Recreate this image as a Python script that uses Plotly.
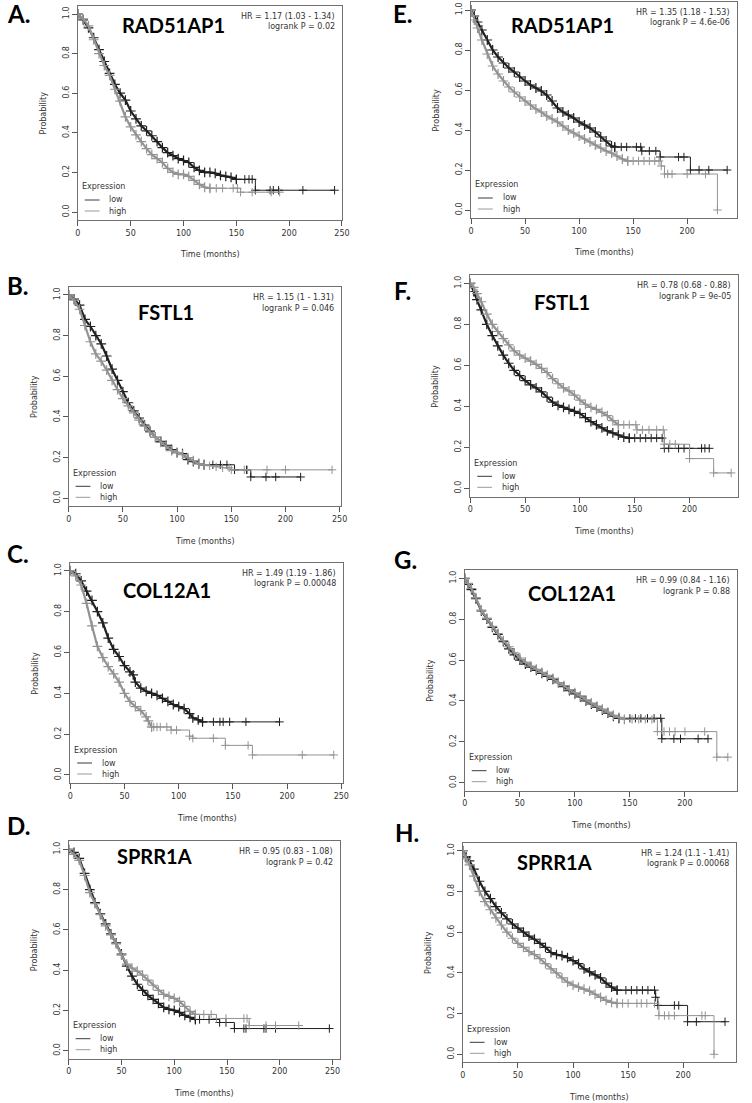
import plotly.graph_objects as go

# ---------------- data ----------------
LETTERS = ["A.", "B.", "C.", "D.", "E.", "F.", "G.", "H."]
GENES = ["RAD51AP1", "FSTL1", "COL12A1", "SPRR1A", "RAD51AP1", "FSTL1", "COL12A1", "SPRR1A"]
HR_TEXT = ["HR = 1.17 (1.03 - 1.34)", "HR = 1.15 (1 - 1.31)", "HR = 1.49 (1.19 - 1.86)",
           "HR = 0.95 (0.83 - 1.08)", "HR = 1.35 (1.18 - 1.53)", "HR = 0.78 (0.68 - 0.88)",
           "HR = 0.99 (0.84 - 1.16)", "HR = 1.24 (1.1 - 1.41)"]
P_TEXT = ["logrank P = 0.02", "logrank P = 0.046", "logrank P = 0.00048", "logrank P = 0.42",
          "logrank P = 4.6e-06", "logrank P = 9e-05", "logrank P = 0.88", "logrank P = 0.00068"]
X_TICKS_LEFT = [0, 50, 100, 150, 200, 250]
X_TICKS_RIGHT = [0, 50, 100, 150, 200]
Y_TICKS = [0.0, 0.2, 0.4, 0.6, 0.8, 1.0]
Y_TICK_TEXT = ["0.0", "0.2", "0.4", "0.6", "0.8", "1.0"]

A_low_t = [0,5,10,15,20,25,30,35,40,45,50,55,60,65,70,75,80,85,90,95,100,105,110,115,120,125,130,135,140,145,150,158,162,165,168,182,185,190,213,243]
A_low_s = [1.0,0.97,0.93,0.88,0.82,0.76,0.70,0.645,0.60,0.565,0.51,0.47,0.435,0.41,0.385,0.355,0.325,0.30,0.285,0.27,0.26,0.25,0.225,0.21,0.20,0.20,0.195,0.185,0.18,0.175,0.165,0.165,0.165,0.165,0.11,0.11,0.11,0.11,0.11,0.11]
A_high_t = [0,5,10,15,20,25,30,35,40,45,50,55,60,65,70,75,80,85,90,95,100,105,110,115,120,125,131,137,147,151,154,165,183,191]
A_high_s = [1.0,0.975,0.94,0.87,0.80,0.74,0.69,0.62,0.56,0.48,0.43,0.39,0.355,0.32,0.29,0.27,0.25,0.22,0.20,0.19,0.19,0.18,0.16,0.14,0.125,0.12,0.12,0.12,0.12,0.12,0.10,0.10,0.10,0.10]

B_low_t = [0,5,10,15,20,25,30,35,40,45,50,55,60,65,70,75,80,85,90,95,100,105,110,115,120,125,133,140,146,153,164,168,182,191,214]
B_low_s = [1.0,0.98,0.95,0.88,0.845,0.80,0.76,0.70,0.635,0.58,0.525,0.47,0.43,0.395,0.36,0.33,0.30,0.28,0.26,0.24,0.225,0.22,0.19,0.18,0.17,0.165,0.165,0.165,0.165,0.14,0.14,0.105,0.105,0.105,0.105]
B_high_t = [0,5,10,15,20,25,30,35,40,45,50,55,60,65,70,75,80,85,90,95,100,105,110,115,120,125,130,136,142,148,150,162,165,183,200,243]
B_high_s = [1.0,0.975,0.93,0.85,0.77,0.71,0.675,0.63,0.58,0.535,0.49,0.455,0.42,0.385,0.355,0.325,0.30,0.275,0.255,0.235,0.225,0.215,0.20,0.185,0.17,0.165,0.16,0.155,0.15,0.15,0.14,0.14,0.14,0.14,0.14,0.14]

C_low_t = [0,5,10,15,20,25,30,35,40,45,50,55,58,60,65,70,75,80,85,90,95,100,105,110,113,118,122,132,138,141,147,162,193]
C_low_s = [1.0,0.985,0.95,0.90,0.855,0.80,0.745,0.67,0.615,0.58,0.535,0.505,0.49,0.455,0.425,0.41,0.40,0.39,0.375,0.36,0.345,0.335,0.325,0.30,0.28,0.27,0.26,0.26,0.26,0.26,0.26,0.26,0.26]
C_high_t = [0,5,10,15,20,25,30,35,40,45,50,55,60,65,70,72,75,77,80,83,89,93,98,110,113,132,143,164,168,214,243]
C_high_s = [1.0,0.975,0.93,0.84,0.73,0.63,0.575,0.53,0.495,0.455,0.40,0.36,0.335,0.315,0.285,0.265,0.235,0.235,0.235,0.235,0.235,0.22,0.22,0.19,0.18,0.18,0.145,0.145,0.098,0.098,0.098]

D_low_t = [0,5,10,15,20,25,30,35,40,45,50,55,60,65,70,75,80,85,90,95,100,105,110,115,120,124,133,143,149,157,166,168,185,187,196,247]
D_low_s = [1.0,0.985,0.955,0.88,0.80,0.735,0.68,0.63,0.58,0.535,0.48,0.42,0.37,0.33,0.30,0.275,0.255,0.235,0.215,0.205,0.20,0.19,0.175,0.165,0.155,0.155,0.155,0.14,0.14,0.11,0.11,0.11,0.11,0.11,0.11,0.11]
D_high_t = [0,5,10,15,20,25,30,35,40,45,50,55,60,65,70,75,80,85,90,95,100,105,110,115,120,128,135,140,149,166,169,171,187,196,218]
D_high_s = [1.0,0.975,0.945,0.87,0.785,0.73,0.675,0.62,0.575,0.53,0.475,0.43,0.41,0.395,0.375,0.35,0.325,0.30,0.28,0.27,0.26,0.245,0.22,0.195,0.18,0.18,0.18,0.16,0.16,0.16,0.16,0.125,0.125,0.125,0.125]

E_low_t = [0,3,6,10,15,20,25,30,35,40,45,50,55,60,65,70,75,80,85,90,95,100,105,110,115,120,125,130,133,139,144,153,157,158,165,171,175,192,197,203,211,220,237]
E_low_s = [1.0,0.97,0.94,0.90,0.85,0.80,0.765,0.735,0.71,0.69,0.665,0.645,0.625,0.61,0.595,0.575,0.545,0.51,0.49,0.475,0.46,0.44,0.425,0.41,0.39,0.365,0.345,0.32,0.315,0.315,0.315,0.315,0.315,0.295,0.295,0.295,0.265,0.265,0.265,0.20,0.20,0.20,0.20]
E_high_t = [0,3,6,10,15,20,25,30,35,40,45,50,55,60,65,70,75,80,85,90,95,100,105,110,115,120,125,130,135,140,145,150,155,160,165,170,174,176,179,182,186,200,217,228]
E_high_s = [1.0,0.95,0.91,0.85,0.78,0.72,0.68,0.645,0.615,0.59,0.565,0.545,0.525,0.505,0.49,0.47,0.455,0.44,0.42,0.40,0.385,0.37,0.355,0.34,0.325,0.31,0.295,0.285,0.27,0.255,0.245,0.245,0.245,0.245,0.245,0.245,0.245,0.22,0.18,0.18,0.18,0.18,0.18,0.0]

F_low_t = [0,3,6,10,15,20,25,30,35,40,45,50,55,60,65,70,75,80,85,90,95,100,105,110,115,120,125,130,135,140,145,150,155,160,165,170,175,177,181,190,195,200,211,214,218]
F_low_s = [1.0,0.96,0.92,0.87,0.80,0.745,0.695,0.65,0.61,0.575,0.55,0.525,0.505,0.49,0.47,0.445,0.42,0.405,0.395,0.385,0.375,0.365,0.345,0.325,0.31,0.295,0.28,0.27,0.26,0.25,0.245,0.245,0.245,0.245,0.245,0.245,0.245,0.195,0.195,0.195,0.195,0.195,0.195,0.195,0.195]
F_high_t = [0,3,6,10,15,20,25,30,35,40,45,50,55,60,65,70,75,80,85,90,95,100,105,110,115,120,125,130,135,140,145,151,152,157,163,170,176,177,182,187,200,222,238]
F_high_s = [1.0,0.98,0.95,0.91,0.85,0.80,0.765,0.73,0.70,0.67,0.65,0.635,0.62,0.605,0.585,0.565,0.535,0.51,0.49,0.475,0.455,0.43,0.41,0.395,0.385,0.37,0.355,0.33,0.31,0.31,0.31,0.31,0.285,0.285,0.285,0.285,0.285,0.215,0.215,0.215,0.145,0.075,0.075]

G_low_t = [0,3,6,10,15,20,25,30,35,40,45,50,55,60,65,70,75,80,85,90,95,100,105,110,115,120,125,130,135,140,150,155,160,166,172,178,179,190,196,212,221]
G_low_s = [1.0,0.97,0.945,0.90,0.84,0.80,0.76,0.725,0.69,0.655,0.625,0.60,0.58,0.565,0.55,0.535,0.52,0.505,0.49,0.47,0.45,0.435,0.42,0.40,0.385,0.37,0.355,0.34,0.325,0.315,0.315,0.315,0.315,0.315,0.315,0.315,0.215,0.215,0.215,0.215,0.215]
G_high_t = [0,3,6,10,15,20,25,30,35,40,45,50,55,60,65,70,75,80,85,90,95,100,105,110,115,120,125,130,135,140,145,152,158,164,170,175,181,186,191,200,218,229,239]
G_high_s = [1.0,0.975,0.95,0.905,0.845,0.805,0.765,0.73,0.695,0.665,0.635,0.61,0.59,0.57,0.555,0.54,0.525,0.51,0.49,0.475,0.455,0.44,0.425,0.405,0.39,0.375,0.36,0.345,0.33,0.32,0.31,0.31,0.31,0.31,0.31,0.25,0.25,0.25,0.25,0.25,0.25,0.125,0.125]

H_low_t = [0,3,6,10,15,20,25,30,35,40,45,50,55,60,65,70,75,80,85,90,95,100,105,110,115,120,125,130,135,140,148,153,158,163,168,174,175,177,192,196,204,212,238]
H_low_s = [1.0,0.97,0.95,0.91,0.85,0.80,0.765,0.725,0.695,0.665,0.64,0.62,0.60,0.58,0.565,0.545,0.525,0.50,0.49,0.485,0.475,0.46,0.445,0.42,0.405,0.39,0.375,0.35,0.33,0.315,0.315,0.315,0.315,0.315,0.315,0.315,0.28,0.24,0.24,0.24,0.16,0.16,0.16]
H_high_t = [0,3,6,10,15,20,25,30,35,40,45,50,55,60,65,70,75,80,85,90,95,100,105,110,115,120,125,130,135,140,145,150,158,162,167,174,178,183,187,192,217,220,228]
H_high_s = [1.0,0.96,0.93,0.875,0.80,0.75,0.71,0.67,0.635,0.60,0.57,0.545,0.525,0.505,0.49,0.47,0.445,0.42,0.40,0.375,0.355,0.34,0.33,0.32,0.31,0.295,0.28,0.265,0.255,0.25,0.25,0.25,0.25,0.25,0.25,0.25,0.19,0.19,0.19,0.19,0.19,0.19,0.0]

LOW_T = [A_low_t, B_low_t, C_low_t, D_low_t, E_low_t, F_low_t, G_low_t, H_low_t]
LOW_S = [A_low_s, B_low_s, C_low_s, D_low_s, E_low_s, F_low_s, G_low_s, H_low_s]
HIGH_T = [A_high_t, B_high_t, C_high_t, D_high_t, E_high_t, F_high_t, G_high_t, H_high_t]
HIGH_S = [A_high_s, B_high_s, C_high_s, D_high_s, E_high_s, F_high_s, G_high_s, H_high_s]

# ---------------- style: where the dense (many-censor) part of each curve ends ----------------
LOW_DENSE_END = [150, 125, 122, 120, 133, 145, 140, 140]
HIGH_DENSE_END = [125, 125, 75, 120, 145, 135, 145, 140]

# ---------------- layout geometry (pixels in the 752x1103 page) ----------------
W, H = 752, 1103
GEOM = [
    dict(L=76.0, R=344.0, y1=14.0, y0=212.0, xmax=250.0, lx=2, ly=13, gx=173, gy=25, right=False),
    dict(L=66.7, R=343.3, y1=295.0, y0=498.3, xmax=251.5, lx=2, ly=285, gx=165, gy=312, right=False),
    dict(L=68.3, R=345.0, y1=570.7, y0=775.0, xmax=251.5, lx=2, ly=553.5, gx=166.7, gy=590, right=False),
    dict(L=66.7, R=341.7, y1=849.3, y0=1050.7, xmax=256.8, lx=2, ly=825, gx=153.3, gy=856, right=False),
    dict(L=475.0, R=745.0, y1=10.0, y0=210.0, xmax=246.2, lx=394, ly=13.5, gx=568, gy=25, right=True),
    dict(L=474.3, R=746.0, y1=283.3, y0=488.3, xmax=244.3, lx=395, ly=290, gx=567.7, gy=301.7, right=True),
    dict(L=468.7, R=745.3, y1=578.3, y0=782.7, xmax=247.7, lx=395, ly=559, gx=577.7, gy=593.3, right=True),
    dict(L=466.7, R=743.7, y1=850.7, y0=1054.3, xmax=247.8, lx=396, ly=832.5, gx=559.3, gy=861.7, right=True),
]
PAD = 0.04

LOW_COLOR = "#202020"
HIGH_COLOR = "#939393"
TEXT_COLOR = "#333333"
AX_FONT = dict(family="DejaVu Sans", size=8, color=TEXT_COLOR)


def px(x):
    return x / W


def py(y):
    return 1 - y / H


fig = go.Figure()
layout = dict(width=W, height=H, margin=dict(l=0, r=0, t=0, b=0),
              paper_bgcolor="white", plot_bgcolor="white", showlegend=False)
annotations = []
shapes = []


def add_curve(t, s, cut, col, xr, yr):
    k = next((j for j, v in enumerate(t) if v >= cut), len(t) - 1)
    # dense part: many small steps -> drawn as a thick fuzzy band
    fig.add_trace(go.Scatter(
        x=t[:k + 1], y=s[:k + 1], xaxis=xr, yaxis=yr, mode="lines+markers",
        line=dict(shape="linear", width=2.2, color=col),
        marker=dict(symbol="cross-thin", size=7, color=col, line=dict(width=1.2, color=col)),
        hoverinfo="skip"))
    # sparse tail: step function with censor marks
    fig.add_trace(go.Scatter(
        x=t[k:], y=s[k:], xaxis=xr, yaxis=yr, mode="lines+markers",
        line=dict(shape="hv", width=1, color=col),
        marker=dict(symbol="cross-thin", size=6, color=col, line=dict(width=1, color=col)),
        hoverinfo="skip"))


for i, g in enumerate(GEOM):
    n = i + 1
    xa = "xaxis" if n == 1 else f"xaxis{n}"
    ya = "yaxis" if n == 1 else f"yaxis{n}"
    xr = "x" if n == 1 else f"x{n}"
    yr = "y" if n == 1 else f"y{n}"
    unit = g["y0"] - g["y1"]
    top = g["y1"] - PAD * unit
    bot = g["y0"] + PAD * unit
    layout[xa] = dict(domain=[px(g["L"]), px(g["R"])], anchor=yr, range=[0, g["xmax"]],
                      tickvals=X_TICKS_RIGHT if g["right"] else X_TICKS_LEFT,
                      showline=True, mirror=True, linecolor="#707070", linewidth=1,
                      ticks="outside", ticklen=5, tickcolor="#555555", tickwidth=1,
                      tickfont=AX_FONT, showgrid=False, zeroline=False, fixedrange=True)
    layout[ya] = dict(domain=[py(bot), py(top)], anchor=xr, range=[-PAD, 1 + PAD],
                      tickvals=Y_TICKS, ticktext=Y_TICK_TEXT, tickangle=-90,
                      showline=True, mirror=True, linecolor="#707070", linewidth=1,
                      ticks="outside", ticklen=5, tickcolor="#555555", tickwidth=1,
                      tickfont=AX_FONT, showgrid=False, zeroline=False, fixedrange=True)

    add_curve(LOW_T[i], LOW_S[i], LOW_DENSE_END[i], LOW_COLOR, xr, yr)
    add_curve(HIGH_T[i], HIGH_S[i], HIGH_DENSE_END[i], HIGH_COLOR, xr, yr)

    annotations.append(dict(text=f"<b>{LETTERS[i]}</b>", x=px(g["lx"]), y=py(g["ly"]),
                            xref="paper", yref="paper", xanchor="left", yanchor="middle",
                            showarrow=False, font=dict(family="Lato", size=24, color="black")))
    annotations.append(dict(text=f"<b>{GENES[i]}</b>", x=px(g["gx"]), y=py(g["gy"]),
                            xref="paper", yref="paper", xanchor="center", yanchor="middle",
                            showarrow=False, font=dict(family="Lato", size=20, color="black")))
    for k, txt in enumerate((HR_TEXT[i], P_TEXT[i])):
        annotations.append(dict(text=txt, x=px(g["R"] - 5), y=py(g["y1"] + 2.5 + 10.5 * k),
                                xref="paper", yref="paper", xanchor="right", yanchor="middle",
                                showarrow=False, font=AX_FONT))
    annotations.append(dict(text="Time (months)", x=px((g["L"] + g["R"]) / 2), y=py(bot + 35),
                            xref="paper", yref="paper", xanchor="center", yanchor="middle",
                            showarrow=False, font=AX_FONT))
    annotations.append(dict(text="Probability", x=px(g["L"] - 35), y=py((top + bot) / 2),
                            xref="paper", yref="paper", xanchor="center", yanchor="middle",
                            textangle=-90, showarrow=False, font=AX_FONT))
    annotations.append(dict(text="Expression", x=px(g["L"] + 2), y=py(g["y0"] - 25),
                            xref="paper", yref="paper", xanchor="left", yanchor="middle",
                            showarrow=False, font=AX_FONT))
    for k, (lab, col) in enumerate((("low", "#3a3a3a"), ("high", "#9a9a9a"))):
        yy = g["y0"] - 12 + 11 * k
        shapes.append(dict(type="line", xref="paper", yref="paper",
                           x0=px(g["L"] + 7), x1=px(g["L"] + 22), y0=py(yy), y1=py(yy),
                           line=dict(color=col, width=1)))
        annotations.append(dict(text=lab, x=px(g["L"] + 30), y=py(yy),
                                xref="paper", yref="paper", xanchor="left", yanchor="middle",
                                showarrow=False, font=AX_FONT))

layout["annotations"] = annotations
layout["shapes"] = shapes
fig.update_layout(**layout)
fig.write_html("out.html", config={"displayModeBar": False},
               post_script="document.body.style.margin='0px';document.body.style.overflow='hidden';")
